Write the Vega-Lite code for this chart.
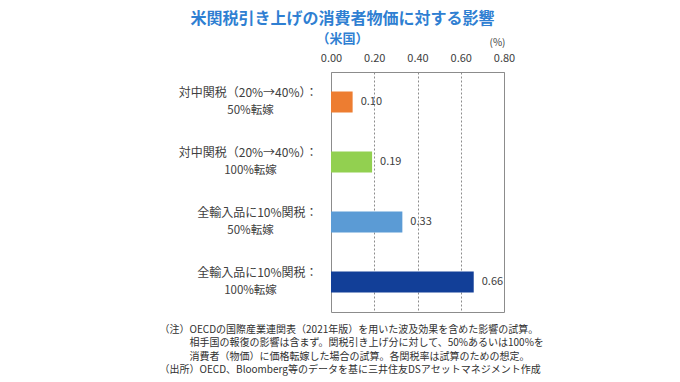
{
  "$schema": "https://vega.github.io/schema/vega-lite/v6.json",
  "width": 173,
  "height": 240,
  "autosize": "none",
  "padding": {"left": 331, "top": 72, "right": 176, "bottom": 70},
  "background": "white",
  "config": {
    "font": "Noto Sans CJK JP",
    "view": {"stroke": "#8c8c8c", "strokeWidth": 1}
  },
  "title": {
    "text": "米関税引き上げの消費者物価に対する影響",
    "subtitle": "（米国）",
    "anchor": "middle",
    "dx": -75,
    "dy": 15,
    "fontSize": 16,
    "fontWeight": "bold",
    "color": "#2f7fd2",
    "subtitleFontSize": 13,
    "subtitleFontWeight": "bold",
    "subtitleColor": "#2f7fd2",
    "subtitlePadding": 6,
    "offset": 6
  },
  "data": {
    "values": [
      {"label": "対中関税（20%→40%）：|50%転嫁", "value": 0.10},
      {"label": "対中関税（20%→40%）：|100%転嫁", "value": 0.19},
      {"label": "全輸入品に10%関税：|50%転嫁", "value": 0.33},
      {"label": "全輸入品に10%関税：|100%転嫁", "value": 0.66}
    ]
  },
  "layer": [
    {
      "mark": {"type": "bar"},
      "encoding": {
        "x": {
          "field": "value",
          "type": "quantitative",
          "scale": {"domain": [0, 0.8], "nice": false, "zero": true},
          "axis": {
            "orient": "top",
            "values": [0, 0.2, 0.4, 0.6, 0.8],
            "format": ".2f",
            "labelFlush": false,
            "title": "(%)",
            "titleX": 166,
            "titleY": -30,
            "titleAlign": "center",
            "titleBaseline": "middle",
            "titleFontSize": 10,
            "titleFontWeight": "normal",
            "titleColor": "#404040",
            "labelFontSize": 11,
            "labelColor": "#404040",
            "labelPadding": 9,
            "ticks": false,
            "tickSize": 0,
            "domain": false,
            "grid": true,
            "gridDash": [2, 2],
            "gridColor": "#8c8c8c",
            "gridWidth": 1
          }
        },
        "y": {
          "field": "label",
          "type": "nominal",
          "sort": null,
          "scale": {"paddingInner": 0.65, "paddingOuter": 0.325},
          "axis": {
            "orient": "left",
            "title": null,
            "labelExpr": "split(datum.label, '|')[0]",
            "labelAlign": "right",
            "labelBaseline": "middle",
            "labelPadding": 14,
            "labelOffset": -9,
            "labelFontSize": 12,
            "labelColor": "#404040",
            "labelLimit": 300,
            "ticks": false,
            "tickSize": 0,
            "domain": false
          }
        },
        "color": {
          "field": "label",
          "type": "nominal",
          "sort": null,
          "scale": {"range": ["#ed7d31", "#92d050", "#5b9bd5", "#123f98"]},
          "legend": null
        }
      }
    },
    {
      "mark": {"type": "text", "align": "left", "baseline": "middle", "dx": 8, "fontSize": 11, "color": "#404040"},
      "encoding": {
        "x": {
          "field": "value",
          "type": "quantitative",
          "axis": {
            "orient": "bottom",
            "labels": false,
            "ticks": false,
            "domain": false,
            "grid": false,
            "title": [
              "（注）OECDの国際産業連関表（2021年版）を用いた波及効果を含めた影響の試算。",
              "\u200b　　　相手国の報復の影響は含まず。関税引き上げ分に対して、50%あるいは100%を",
              "\u200b　　　消費者（物価）に価格転嫁した場合の試算。各関税率は試算のための想定。",
              "（出所）OECD、Bloomberg等のデータを基に三井住友DSアセットマネジメント作成"
            ],
            "titleX": -172,
            "titleY": 12,
            "titleAlign": "left",
            "titleAnchor": "start",
            "titleBaseline": "top",
            "titleFontSize": 10,
            "titleFontWeight": "normal",
            "titleLineHeight": 13.5,
            "titleColor": "#303030",
            "titleLimit": 600
          }
        },
        "y": {
          "field": "label",
          "type": "nominal",
          "sort": null,
          "axis": {
            "orient": "left",
            "title": null,
            "labelExpr": "split(datum.label, '|')[1]",
            "labelAlign": "center",
            "labelBaseline": "middle",
            "labelPadding": 81,
            "labelOffset": 9,
            "labelFontSize": 11.5,
            "labelColor": "#404040",
            "labelLimit": 300,
            "ticks": false,
            "tickSize": 0,
            "domain": false,
            "grid": false
          }
        },
        "text": {"field": "value", "type": "quantitative", "format": ".2f"}
      }
    }
  ],
  "resolve": {"axis": {"x": "independent", "y": "independent"}}
}
